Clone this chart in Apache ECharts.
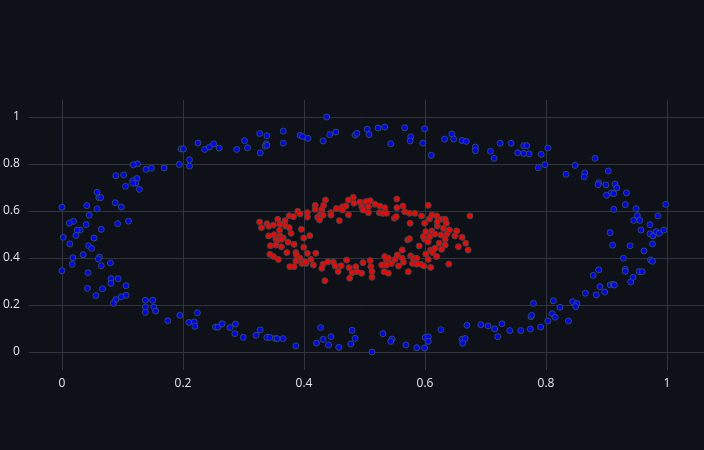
<!DOCTYPE html>
<html>
<head>
<meta charset="utf-8">
<script src="https://cdn.jsdelivr.net/npm/echarts@6/dist/echarts.min.js"></script>
<style>
  html, body { margin: 0; padding: 0; background: #0e1117; }
  #chart { width: 704px; height: 450px; }
</style>
</head>
<body>
<div id="chart"></div>
<script>
// Tick labels
const xTicks = [0, 0.2, 0.4, 0.6, 0.8, 1];
const yTicks = [0, 0.2, 0.4, 0.6, 0.8, 1];

// Outer ring (blue) points [x, y]
const outerRing = [
  [0.225,0.889],[0.197,0.864],[0.201,0.864],[0.211,0.818],[0.194,0.798],[0.211,0.791],[0.169,0.783],
  [0.148,0.782],[0.139,0.777],[0.125,0.801],[0.118,0.796],[0.102,0.753],[0.089,0.750],[0.124,0.738],
  [0.117,0.729],[0.122,0.718],[0.117,0.718],[0.105,0.705],[0.128,0.692],[0.058,0.680],[0.061,0.657],
  [0.064,0.657],[0.088,0.635],[0.098,0.617],[0.041,0.623],[0.058,0.609],[0.000,0.616],[0.045,0.582],
  [0.110,0.557],[0.092,0.546],[0.019,0.556],[0.012,0.548],[0.040,0.542],[0.065,0.522],[0.030,0.519],
  [0.025,0.519],[0.023,0.496],[0.002,0.488],[0.053,0.485],
  [0.013,0.460],[0.044,0.452],[0.049,0.441],[0.035,0.414],[0.062,0.404],[0.060,0.396],[0.018,0.401],
  [0.017,0.373],[0.065,0.367],[0.080,0.379],[0.000,0.346],[0.043,0.337],[0.081,0.312],[0.093,0.312],
  [0.081,0.292],[0.106,0.282],[0.042,0.271],[0.067,0.269],[0.056,0.240],[0.106,0.241],[0.098,0.235],
  [0.089,0.223],[0.085,0.207],[0.138,0.220],[0.150,0.220],[0.138,0.191],[0.152,0.191],[0.138,0.169],
  [0.155,0.174],[0.175,0.133],[0.195,0.156],[0.224,0.167],[0.210,0.126],[0.219,0.128],[0.220,0.109],
  [0.254,0.106],[0.258,0.106],[0.265,0.120],[0.278,0.104],[0.287,0.119],[0.286,0.078],[0.300,0.062],
  [0.321,0.071],[0.328,0.094],[0.339,0.062],[0.344,0.062],[0.353,0.057],[0.356,0.057],[0.366,0.057],
  [0.387,0.026],[0.428,0.104],[0.421,0.038],[0.432,0.054],[0.445,0.065],[0.441,0.030],[0.458,0.020],
  [0.480,0.092],[0.485,0.058],[0.478,0.034],
  [0.513,0.000],[0.531,0.078],[0.546,0.055],[0.544,0.045],[0.569,0.030],[0.587,0.018],[0.600,0.017],
  [0.601,0.062],[0.606,0.065],[0.606,0.045],[0.627,0.095],[0.662,0.054],[0.667,0.057],[0.663,0.037],
  [0.670,0.114],[0.693,0.116],[0.705,0.111],[0.716,0.098],[0.728,0.120],[0.721,0.065],[0.741,0.091],
  [0.759,0.091],
  [0.775,0.098],[0.776,0.150],[0.777,0.156],[0.792,0.106],[0.804,0.132],[0.780,0.207],[0.811,0.163],
  [0.816,0.148],[0.813,0.218],[0.824,0.190],[0.838,0.132],[0.845,0.214],[0.852,0.206],[0.850,0.193],
  [0.866,0.250],[0.884,0.243],[0.890,0.278],[0.898,0.255],[0.879,0.326],[0.888,0.350],[0.907,0.286],
  [0.912,0.288],[0.914,0.285],[0.929,0.399],[0.932,0.352],[0.932,0.343],[0.941,0.298],[0.945,0.318],
  [0.955,0.342],[0.960,0.342],[0.963,0.430],[0.940,0.452],[0.911,0.455],[0.974,0.391],[0.977,0.386],
  [0.977,0.460],[0.907,0.508],[0.973,0.503],[0.978,0.494],[0.983,0.512],[0.988,0.505],[0.996,0.519],
  [0.958,0.519],
  [0.764,0.878],[0.769,0.878],[0.764,0.845],[0.773,0.843],[0.793,0.841],[0.804,0.868],[0.788,0.784],
  [0.799,0.797],[0.834,0.756],[0.849,0.794],[0.882,0.824],[0.865,0.762],[0.864,0.745],[0.904,0.770],
  [0.888,0.720],[0.887,0.712],[0.900,0.711],[0.915,0.715],[0.918,0.698],[0.909,0.677],[0.913,0.674],
  [0.901,0.667],[0.934,0.677],[0.932,0.627],[0.913,0.607],[0.950,0.610],[0.999,0.628],[0.952,0.580],
  [0.946,0.560],[0.956,0.560],[0.986,0.579],[0.973,0.542],
  [0.505,0.948],[0.508,0.925],[0.523,0.953],[0.534,0.957],[0.544,0.886],[0.567,0.954],[0.577,0.916],
  [0.576,0.898],[0.600,0.950],[0.597,0.889],[0.611,0.837],[0.633,0.906],[0.645,0.928],[0.648,0.906],
  [0.662,0.900],[0.669,0.896],[0.684,0.872],[0.684,0.857],[0.709,0.854],[0.715,0.824],[0.725,0.888],
  [0.743,0.888],[0.754,0.848],
  [0.438,1.000],[0.236,0.862],[0.244,0.872],[0.251,0.886],[0.260,0.868],[0.289,0.862],[0.302,0.899],
  [0.307,0.869],[0.327,0.930],[0.339,0.920],[0.328,0.847],[0.338,0.886],[0.336,0.876],[0.339,0.879],
  [0.366,0.940],[0.366,0.889],[0.394,0.922],[0.398,0.917],[0.407,0.909],[0.432,0.898],[0.443,0.925],
  [0.453,0.936],[0.485,0.923],[0.488,0.930]
];

// Inner ring (red) points [x, y]
const innerRing = [
  [0.327,0.553],[0.330,0.529],[0.339,0.546],[0.342,0.535],[0.350,0.540],[0.357,0.565],[0.361,0.543],
  [0.360,0.518],[0.369,0.559],[0.370,0.536],[0.376,0.580],[0.383,0.576],[0.376,0.529],[0.379,0.505],
  [0.390,0.599],[0.394,0.587],[0.396,0.522],[0.406,0.593],[0.406,0.574],[0.410,0.495],[0.400,0.485],
  [0.419,0.624],[0.419,0.607],[0.427,0.584],[0.430,0.607],[0.423,0.573],[0.426,0.562],[0.432,0.582],
  [0.433,0.624],[0.436,0.647],[0.445,0.593],[0.445,0.583],[0.454,0.611],[0.459,0.559],[0.464,0.618],
  [0.470,0.621],[0.464,0.604],[0.474,0.647],[0.482,0.658],[0.474,0.584],[0.483,0.633],[0.493,0.638],
  [0.496,0.618],[0.498,0.604],[0.503,0.640],[0.507,0.618],[0.507,0.593],[0.342,0.494],[0.351,0.499],
  [0.354,0.480],[0.361,0.494],[0.366,0.485],
  [0.357,0.477],[0.363,0.480],[0.345,0.452],[0.354,0.455],[0.363,0.448],[0.374,0.467],[0.384,0.458],
  [0.400,0.446],[0.372,0.423],[0.344,0.416],[0.350,0.406],[0.358,0.394],[0.387,0.423],[0.394,0.399],
  [0.388,0.413],[0.387,0.387],[0.377,0.363],[0.384,0.363],[0.397,0.377],[0.404,0.377],[0.406,0.420],
  [0.420,0.420],[0.402,0.383],[0.412,0.394],[0.416,0.370],[0.432,0.374],[0.440,0.384],[0.449,0.382],
  [0.452,0.366],[0.457,0.343],[0.462,0.367],[0.471,0.391],[0.475,0.359],[0.480,0.337],[0.486,0.363],
  [0.488,0.342],[0.496,0.335],[0.498,0.380],[0.476,0.314],[0.435,0.303],[0.430,0.356],
  [0.510,0.389],[0.511,0.363],[0.513,0.342],[0.513,0.318],[0.529,0.370],[0.537,0.389],[0.534,0.406],
  [0.533,0.342],[0.540,0.335],[0.545,0.377],[0.551,0.394],[0.555,0.413],[0.557,0.366],[0.563,0.434],
  [0.565,0.382],[0.572,0.477],[0.575,0.482],[0.577,0.409],[0.573,0.342],[0.580,0.377],[0.581,0.399],
  [0.591,0.451],[0.594,0.373],[0.599,0.366],[0.602,0.417],[0.606,0.394],[0.610,0.360],[0.610,0.434],
  [0.600,0.480],[0.602,0.512],[0.609,0.491],[0.612,0.515],[0.617,0.502],[0.620,0.406],[0.624,0.463],
  [0.627,0.498],[0.628,0.437],[0.634,0.480],[0.634,0.455],[0.637,0.502],[0.641,0.519],[0.640,0.374],
  [0.650,0.494],[0.653,0.515],[0.656,0.448],[0.662,0.488],[0.668,0.463],[0.672,0.434],
  [0.554,0.651],[0.510,0.644],[0.518,0.629],[0.526,0.621],[0.534,0.614],[0.537,0.590],[0.525,0.593],
  [0.531,0.590],[0.554,0.614],[0.564,0.621],[0.567,0.597],[0.550,0.569],[0.553,0.576],[0.575,0.590],
  [0.584,0.590],[0.576,0.548],[0.595,0.579],[0.606,0.624],[0.608,0.566],[0.612,0.583],[0.620,0.579],
  [0.600,0.548],[0.628,0.565],[0.634,0.565],[0.636,0.548],[0.631,0.526],[0.621,0.536],[0.675,0.579],
  [0.598,0.491],
  [0.617,0.441],[0.613,0.423],[0.606,0.469],[0.621,0.554],[0.563,0.399],[0.587,0.399],[0.540,0.399],
  [0.537,0.370],[0.587,0.374]
];

// Axis ranges of the plotting area
const xRange = [-0.0629, 1.0623];
const yRange = [-0.0766, 1.0723];

const chart = echarts.init(document.getElementById('chart'), null, { renderer: 'canvas' });

const gridColor = '#31333f';
const labelColor = '#e4e5ea';
const labelFont = 'Open Sans, Arial, sans-serif';

const markerStyle = (color) => ({
  color: color,
  borderColor: '#2f4f4f',
  borderWidth: 1,
  opacity: 1
});

chart.setOption({
  backgroundColor: '#0e1117',
  animation: false,
  grid: [
    // data grid (full plot area)
    { left: 24, right: 0, top: 100, bottom: 80 },
    // x display grid (spans 0..1 horizontally)
    { left: 62, width: 605, top: 100, bottom: 80 },
    // y display grid (spans 0..1 vertically, full width)
    { left: 24, right: 0, top: 117, height: 235 }
  ],
  xAxis: [
    { gridIndex: 0, type: 'value', min: xRange[0], max: xRange[1], show: false },
    {
      gridIndex: 1, type: 'value', min: xTicks[0], max: xTicks[xTicks.length - 1], interval: 0.2,
      axisLine: { show: false }, axisTick: { show: false },
      splitLine: { show: true, lineStyle: { color: gridColor, width: 1 } },
      axisLabel: { color: labelColor, fontSize: 12, fontWeight: 500, fontFamily: labelFont, margin: 8 }
    },
    { gridIndex: 2, type: 'value', min: 0, max: 1, show: false }
  ],
  yAxis: [
    { gridIndex: 0, type: 'value', min: yRange[0], max: yRange[1], show: false },
    { gridIndex: 1, type: 'value', min: 0, max: 1, show: false },
    {
      gridIndex: 2, type: 'value', min: yTicks[0], max: yTicks[yTicks.length - 1], interval: 0.2,
      axisLine: { show: false }, axisTick: { show: false },
      splitLine: { show: true, lineStyle: { color: gridColor, width: 1 } },
      axisLabel: { color: labelColor, fontSize: 12, fontWeight: 500, fontFamily: labelFont, margin: 9 }
    }
  ],
  series: [
    {
      type: 'scatter', xAxisIndex: 0, yAxisIndex: 0,
      data: outerRing, symbol: 'circle', symbolSize: 6,
      itemStyle: markerStyle('#0000ff'), clip: false, silent: true
    },
    {
      type: 'scatter', xAxisIndex: 0, yAxisIndex: 0,
      data: innerRing, symbol: 'circle', symbolSize: 6,
      itemStyle: markerStyle('#ff0000'), clip: false, silent: true
    }
  ]
});
</script>
</body>
</html>
